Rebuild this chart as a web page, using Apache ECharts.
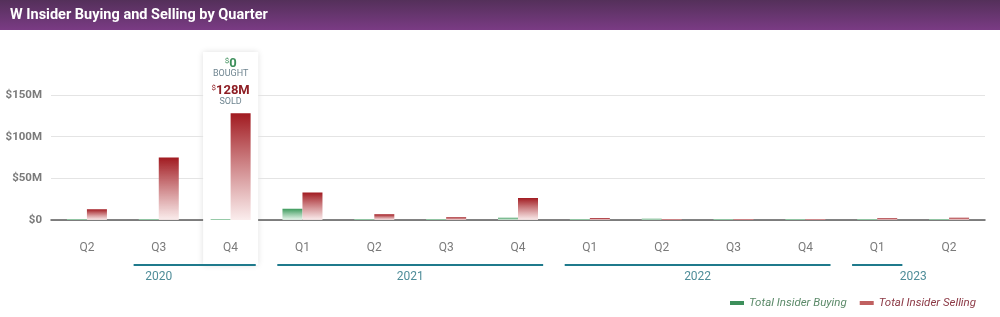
<!DOCTYPE html>
<html><head><meta charset="utf-8">
<script src="https://cdn.jsdelivr.net/npm/echarts@6/dist/echarts.min.js"></script>
<style>html,body{margin:0;padding:0;background:#fff}#c{width:1000px;height:317px}</style>
</head><body><div id="c"></div>
<script>
const chartTitle = 'W Insider Buying and Selling by Quarter';
const quarters = ['Q2','Q3','Q4','Q1','Q2','Q3','Q4','Q1','Q2','Q3','Q4','Q1','Q2'];
const quarterYears = ['2020','2020','2020','2021','2021','2021','2021','2022','2022','2022','2022','2023','2023'];
const buying = [0.3, 0.3, 0, 13.5, 0.3, 0.4, 2.8, 0.3, 1.5, 0.3, 0.3, 0.3, 0.3];
const selling = [13, 75, 128, 33, 6.8, 3.2, 26.5, 2.3, 1, 1.2, 1.3, 2, 2.8];
const yTicks = [0, 50, 100, 150];
const highlightIndex = 2;
// year bands: quarter index range underlined
const yearNames = ['2020', '2021', '2022', '2023'];
const yearLineFrom = [1, 3, 7, 11];
const yearLineTo = [2, 6, 10, 11];

const cats = quarters.map((q, i) => quarterYears[i] + ' ' + q);
const fmtM = v => v === 0 ? '0' : (Math.round(v) + 'M');

const chart = echarts.init(document.getElementById('c'), null, {renderer: 'canvas'});
const grad = (top, bottom) => new echarts.graphic.LinearGradient(0, 0, 0, 1, [
  {offset: 0, color: top}, {offset: 1, color: bottom}]);

chart.setOption({
  animation: false,
  textStyle: {fontFamily: 'Roboto'},
  grid: {left: 51, right: 15, top: 95, bottom: 97},
  legend: {
    right: 19, top: 292, itemWidth: 14, itemHeight: 4, itemGap: 13, icon: 'rect',
    data: [
      {name: 'Total Insider Buying', itemStyle: {color: '#3d8f5b'}, textStyle: {color: '#5b8a69'}},
      {name: 'Total Insider Selling', itemStyle: {color: '#c06060'}, textStyle: {color: '#8c3a46'}}
    ],
    textStyle: {fontStyle: 'italic', fontSize: 11.5, fontFamily: 'Roboto'}
  },
  xAxis: {
    type: 'category', data: cats, z: 2,
    axisLine: {lineStyle: {color: '#5a5a5a', width: 1.5}},
    axisTick: {show: false},
    axisLabel: {formatter: v => v.split(' ')[1], color: '#7a7a7a', fontSize: 12, margin: 22, fontFamily: 'Roboto'}
  },
  yAxis: {
    type: 'value', min: yTicks[0], max: yTicks[yTicks.length - 1], interval: yTicks[1] - yTicks[0],
    axisLine: {show: false}, axisTick: {show: false},
    splitLine: {lineStyle: {color: '#e4e4e4', width: 1}},
    axisLabel: {formatter: v => '$' + fmtM(v), color: '#7a7a7a', fontSize: 11.5, fontWeight: 'bold', margin: 9, fontFamily: 'Roboto'}
  },
  series: [
    {name: 'Total Insider Buying', type: 'bar', data: buying, barWidth: 20, barGap: '0%', barMinHeight: 1,
     itemStyle: {color: grad('#3c9a5c', 'rgba(230,245,235,0.9)')}, z: 4},
    {name: 'Total Insider Selling', type: 'bar', data: selling, barWidth: 20, barGap: '0%', barMinHeight: 1,
     itemStyle: {color: grad('#a11a20', 'rgba(250,235,235,0.9)')}, z: 4}
  ]
});

// decorations positioned through the axis scales
const cx = i => chart.convertToPixel({xAxisIndex: 0}, i);
const zeroY = chart.convertToPixel({yAxisIndex: 0}, 0);
const band = cx(1) - cx(0);
const hx = cx(highlightIndex);
const graphics = [
  {type: 'rect', shape: {x: 0, y: 0, width: 1000, height: 30}, z: 10,
   style: {fill: new echarts.graphic.LinearGradient(0, 0, 0, 1, [{offset: 0, color: '#54305a'}, {offset: 1, color: '#7a3b84'}])}},
  {type: 'text', x: 10, y: 15, z: 11, style: {text: chartTitle, fill: '#fff', font: 'bold 14.5px Roboto', textVerticalAlign: 'middle'}},
  {type: 'rect', shape: {x: hx - 27.5, y: 52, width: 55, height: 213}, z: -1,
   style: {fill: '#fff', shadowBlur: 6, shadowColor: 'rgba(0,0,0,0.13)'}},
  // the card hides the grid and axis lines it covers
  {type: 'rect', shape: {x: hx - 27.5, y: 52, width: 55, height: zeroY - 52 + 2}, z: 3,
   style: {fill: '#fff'}},
  {type: 'text', x: hx, y: 64, z: 5, style: {
    text: '{s|$}{g|' + fmtM(buying[highlightIndex]) + '}', textAlign: 'center', textVerticalAlign: 'middle',
    rich: {s: {fontSize: 8, fill: '#3d8f5b', verticalAlign: 'top', fontFamily: 'Roboto', padding: [0, 0, 6, 0]},
           g: {fontSize: 13, fontWeight: 'bold', fill: '#3d8f5b', fontFamily: 'Roboto'}}}},
  {type: 'text', x: hx, y: 74, z: 5, style: {text: 'BOUGHT', textAlign: 'center', textVerticalAlign: 'middle', fill: '#6f8590', font: '9px Roboto'}},
  {type: 'text', x: hx, y: 91, z: 5, style: {
    text: '{s|$}{r|' + fmtM(selling[highlightIndex]) + '}', textAlign: 'center', textVerticalAlign: 'middle',
    rich: {s: {fontSize: 8, fill: '#8e1e24', verticalAlign: 'top', fontFamily: 'Roboto', padding: [0, 0, 6, 0]},
           r: {fontSize: 13, fontWeight: 'bold', fill: '#8e1e24', fontFamily: 'Roboto'}}}},
  {type: 'text', x: hx, y: 102, z: 5, style: {text: 'SOLD', textAlign: 'center', textVerticalAlign: 'middle', fill: '#6f8590', font: '9px Roboto'}}
];
yearNames.forEach((y, k) => {
  const x1 = cx(yearLineFrom[k]) - band * 0.35;
  const x2 = cx(yearLineTo[k]) + band * 0.35;
  graphics.push({type: 'line', z: 6, shape: {x1, y1: 265, x2, y2: 265}, style: {stroke: '#1f7a8c', lineWidth: 2}});
  const idx = quarterYears.map((q, i) => q === y ? i : -1).filter(i => i >= 0);
  const mid = (cx(idx[0]) + cx(idx[idx.length - 1])) / 2;
  graphics.push({type: 'text', x: mid, y: 277, z: 6, style: {text: y, textAlign: 'center', textVerticalAlign: 'middle', fill: '#4f8d99', font: '12px Roboto'}});
});
chart.setOption({graphic: graphics});
</script></body></html>
